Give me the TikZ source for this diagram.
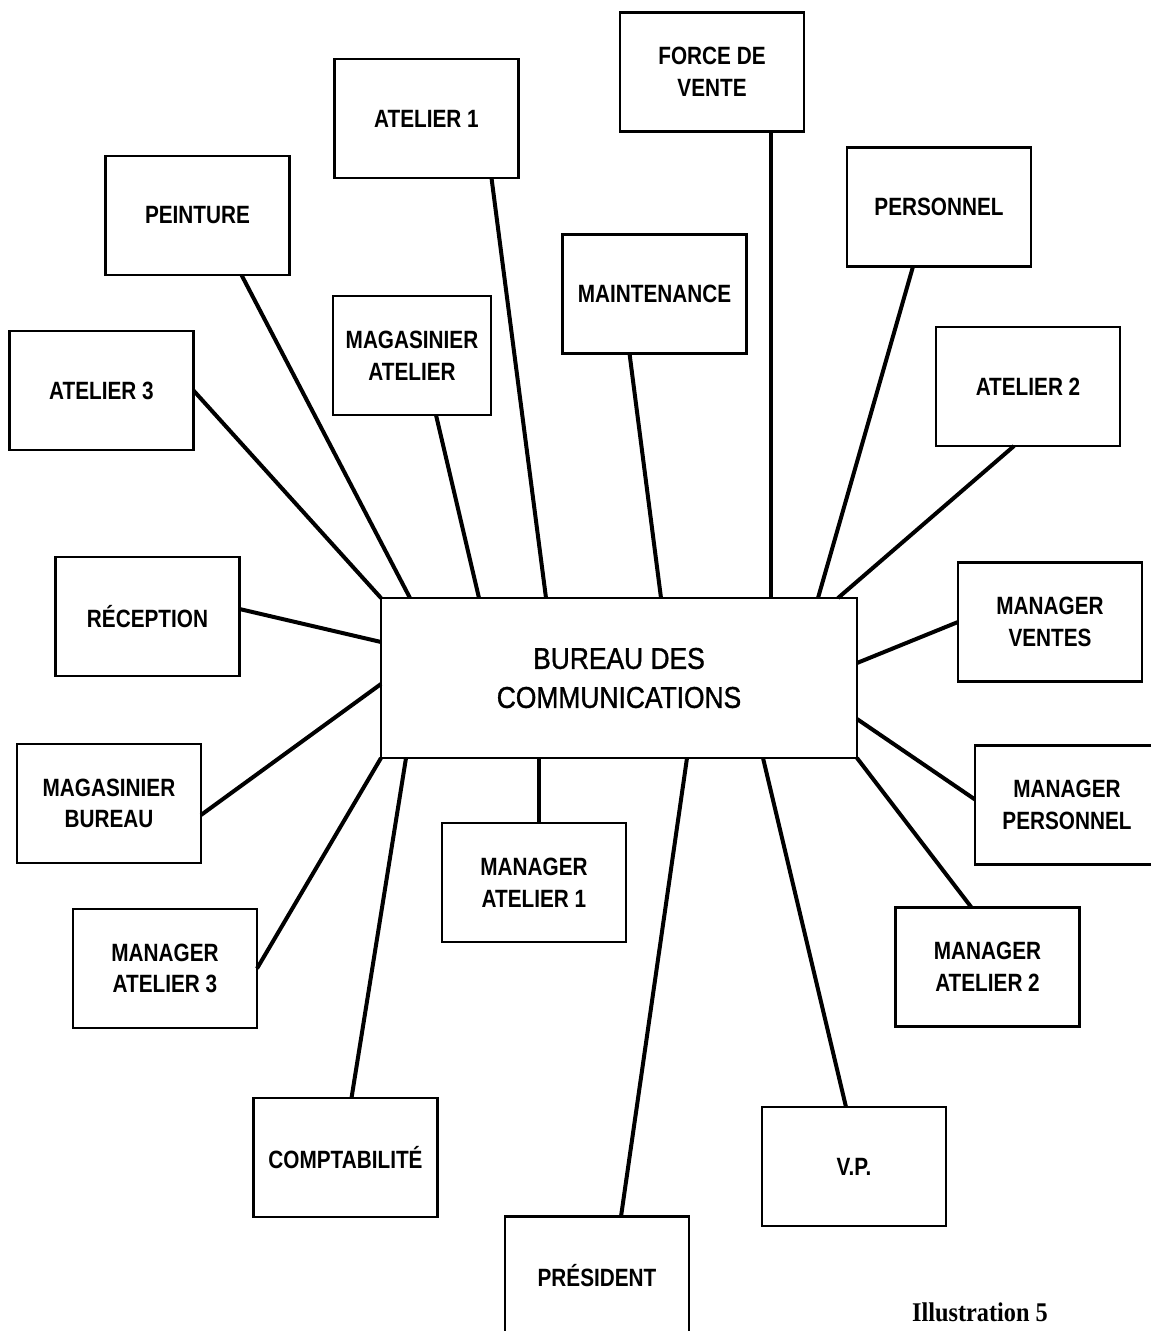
\documentclass[tikz,border=0pt]{standalone}
\usepackage{fontspec}
\newfontfamily\labelfont[FakeStretch=0.83]{Liberation Sans}
% medium weight for the central office: the regular face, emboldened
\newfontfamily\hubfont[FakeStretch=0.88,BoldFont={Liberation Sans},
  BoldFeatures={FakeBold=1.2}]{Liberation Sans}
\newfontfamily\captionfont[FakeStretch=0.9]{Liberation Serif}
\usetikzlibrary{calc}

\tikzset{
  post/.style={draw, line width=1.1pt, fill=white, minimum width=92pt,
    minimum height=59.5pt, inner sep=0pt, outer sep=0pt, align=center,
    font=\labelfont\bfseries\fontsize{12.5}{15.8}\selectfont},
  hub/.style={draw, line width=0.9pt, fill=white, minimum width=238pt,
    minimum height=80pt, inner sep=0pt, outer sep=0pt, align=center,
    font=\hubfont\bfseries\fontsize{15}{19.5}\selectfont},
  link/.style={line width=2pt},
}

\begin{document}
\begin{tikzpicture}[x=0.5pt,y=-0.5pt]
\useasboundingbox (0,0) rectangle (1150,1331);

% central office
\node[hub] (bureau) at (619,678) {BUREAU DES\\COMMUNICATIONS};

% surrounding services
\node[post] (force)  at (712,72)      {FORCE DE\\VENTE};
\node[post] (at1)    at (426.5,118.5) {ATELIER 1};
\node[post] (peint)  at (197.5,215.5) {PEINTURE};
\node[post] (pers)   at (939,207)     {PERSONNEL};
\node[post] (maint)  at (654.5,294)   {MAINTENANCE};
\node[post, minimum width=79pt] (magat) at (412,355.5) {MAGASINIER\\ATELIER};
\node[post] (at3)    at (101.5,390.5) {ATELIER 3};
\node[post] (at2)    at (1028,386.5)  {ATELIER 2};
\node[post] (recep)  at (147.5,616.5) {RÉCEPTION};
\node[post] (mven)   at (1050,622)    {MANAGER\\VENTES};
\node[post] (magbu)  at (109,803.5)   {MAGASINIER\\BUREAU};
\node[post] (mpers)  at (1067,805)    {MANAGER\\PERSONNEL};
\node[post] (mat1)   at (534,882.5)   {MANAGER\\ATELIER 1};
\node[post] (mat3)   at (165,968.5)   {MANAGER\\ATELIER 3};
\node[post] (mat2)   at (987.5,967)   {MANAGER\\ATELIER 2};
\node[post] (compta) at (345.5,1157.5) {COMPTABILITÉ};
\node[post] (vp)     at (854,1166.5)  {V.P.};
\node[post] (pres)   at (597,1276)    {PRÉSIDENT};

% connectors to the central office
\draw[link] ($(peint.south west)+(136,0)$) -- ($(bureau.north west)+(29,0)$);
\draw[link] ($(at1.south west)+(157,0)$)   -- ($(bureau.north west)+(165,0)$);
\draw[link] ($(force.south west)+(151,0)$) -- ($(bureau.north west)+(390,0)$);
\draw[link] ($(pers.south west)+(66,0)$)   -- ($(bureau.north west)+(437,0)$);
\draw[link] ($(at2.south west)+(78,0)$)    -- ($(bureau.north west)+(457,0)$);
\draw[link] ($(maint.south west)+(67,0)$)  -- ($(bureau.north west)+(280,0)$);
\draw[link] ($(magat.south west)+(103,0)$) -- ($(bureau.north west)+(98,0)$);
\draw[link] (at3.east) -- (bureau.north west);
\draw[link] ($(recep.north east)+(0,52)$)  -- ($(bureau.north west)+(0,44)$);
\draw[link] ($(magbu.north east)+(0,71)$)  -- ($(bureau.north west)+(0,86)$);
\draw[link] (mven.west) -- ($(bureau.north east)+(0,65)$);
\draw[link] ($(mpers.north west)+(0,54)$)  -- ($(bureau.north east)+(0,121)$);
\draw[link] ($(mat2.north west)+(76,0)$)   -- (bureau.south east);
\draw[link] ($(mat1.north west)+(97,0)$)   -- ($(bureau.south west)+(158,0)$);
\draw[link] (mat3.east) -- (bureau.south west);
\draw[link] ($(compta.north west)+(98,0)$) -- ($(bureau.south west)+(25,0)$);
\draw[link] ($(pres.north west)+(116,0)$)  -- ($(bureau.south west)+(306,0)$);
\draw[link] ($(vp.north west)+(84,0)$)     -- ($(bureau.south west)+(382,0)$);

% caption
\node[font=\captionfont\bfseries\fontsize{13.5}{15}\selectfont] (caption) at (980,1312) {Illustration 5};
\end{tikzpicture}
\end{document}
